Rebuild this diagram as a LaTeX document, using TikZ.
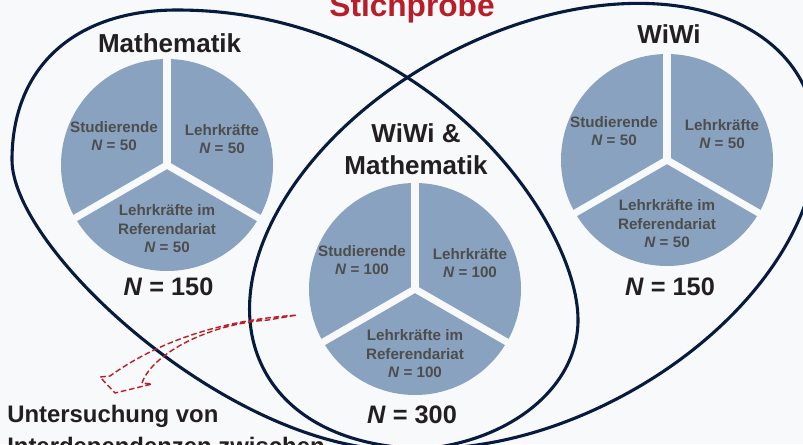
\documentclass[tikz,border=0pt]{standalone}
\usepackage{fontspec}
\setmainfont{Liberation Sans}
\usetikzlibrary{calc}

\definecolor{pieblue}{RGB}{137,162,192}
\definecolor{setline}{RGB}{6,27,62}
\definecolor{labelgrey}{RGB}{77,77,77}
\definecolor{titleblack}{RGB}{35,31,32}
\definecolor{samplered}{RGB}{185,30,40}
\definecolor{slidebg}{RGB}{248,249,251}

\tikzset{
    setellipse/.style={draw=setline, line width=2.2pt},
    piegap/.style={draw=slidebg, line width=5pt},
    pielabel/.style={text=labelgrey, font=\bfseries\fontsize{10.8}{13.2}\selectfont, align=center},
    grouptitle/.style={text=titleblack, font=\bfseries\fontsize{18.5}{22.8}\selectfont, align=center},
    ntotal/.style={text=titleblack, font=\bfseries\fontsize{18}{21}\selectfont, anchor=base},
}

\begin{document}
\begin{tikzpicture}
    % Slide area
    \useasboundingbox (0,0) rectangle (20.075,11.1);
    \clip (0,0) rectangle (20.075,11.1);
    \fill[slidebg] (0,0) rectangle (20.075,11.1);

    % Sets
    \draw[setellipse] (4.425,10.85) .. controls (10.675,10.85) and (14.45,5.6) .. (14.45,3.1)
        .. controls (14.45,1.3) and (12.5,-0.15) .. (10.0,-0.15)
        .. controls (5.75,-0.15) and (0.3,4.85) .. (0.3,7.1)
        .. controls (0.3,9.475) and (1.925,10.85) .. (4.425,10.85) -- cycle;
    \draw[setellipse, rotate around={28.4:(13.325,5.45)}] (13.325,5.45) ellipse (7.625 and 4.8);

    % Pie Mathematik
    \fill[pieblue] (4.175,6.975) circle (2.65);
    \draw[piegap] (4.175,6.975) -- ++(90:2.7);
    \draw[piegap] (4.175,6.975) -- ++(210:2.7);
    \draw[piegap] (4.175,6.975) -- ++(330:2.7);

    % Pie WiWi
    \fill[pieblue] (16.675,7.1) circle (2.65);
    \draw[piegap] (16.675,7.1) -- ++(90:2.7);
    \draw[piegap] (16.675,7.1) -- ++(210:2.7);
    \draw[piegap] (16.675,7.1) -- ++(330:2.7);

    % Pie WiWi & Mathematik
    \fill[pieblue] (10.375,3.875) circle (2.65);
    \draw[piegap] (10.375,3.875) -- ++(90:2.7);
    \draw[piegap] (10.375,3.875) -- ++(210:2.7);
    \draw[piegap] (10.375,3.875) -- ++(330:2.7);

    % Pie labels
    \node[pielabel] (mathStud) at (2.85,7.7) {Studierende\\\textit{N} = 50};
    \node[pielabel] (mathLehr) at (5.55,7.625) {Lehrkräfte\\\textit{N} = 50};
    \node[pielabel] (mathRef) at (4.175,5.375) {Lehrkräfte im\\Referendariat\\\textit{N} = 50};
    \node[pielabel] (wiwiStud) at (15.35,7.825) {Studierende\\\textit{N} = 50};
    \node[pielabel] (wiwiLehr) at (18.05,7.75) {Lehrkräfte\\\textit{N} = 50};
    \node[pielabel] (wiwiRef) at (16.675,5.5) {Lehrkräfte im\\Referendariat\\\textit{N} = 50};
    \node[pielabel] (bothStud) at (9.05,4.6) {Studierende\\\textit{N} = 100};
    \node[pielabel] (bothLehr) at (11.75,4.525) {Lehrkräfte\\\textit{N} = 100};
    \node[pielabel] (bothRef) at (10.375,2.25) {Lehrkräfte im\\Referendariat\\\textit{N} = 100};

    % Titles
    \node[text=samplered, font=\bfseries\fontsize{22.5}{27}\selectfont, anchor=base] (sample) at (10.3,10.69) {Stichprobe};
    \node[grouptitle, anchor=base] (titleMath) at (4.24,9.8) {Mathematik};
    \node[grouptitle, anchor=base] (titleWiwi) at (16.725,10.025) {WiWi};
    \node[grouptitle] (titleBoth) at (10.4,7.36) {WiWi \&\\Mathematik};

    % Totals
    \node[ntotal] (nMath) at (4.2125,3.725) {\textit{N} = 150};
    \node[ntotal] (nWiwi) at (16.75,3.725) {\textit{N} = 150};
    \node[ntotal] (nBoth) at (10.3,0.525) {\textit{N} = 300};

    % Curved arrow to the research question
    \draw[samplered, line width=1pt, dash pattern=on 4pt off 2pt, line join=round]
        (7.4,3.22) .. controls (5.6,3.1) and (4.0,2.6) .. (2.75,1.7)
        -- (2.5,1.675) -- (2.875,1.275) -- (3.8,1.5) -- (3.55,1.525)
        .. controls (3.8,2.25) and (5.2,3.0) .. (6.7,3.1) -- cycle;

    \node[text=titleblack, font=\bfseries\fontsize{17}{22.8}\selectfont, align=left, anchor=north west, inner sep=0pt] (study) at (0.175,0.975) {Untersuchung von\\Interdependenzen zwischen};
\end{tikzpicture}
\end{document}
